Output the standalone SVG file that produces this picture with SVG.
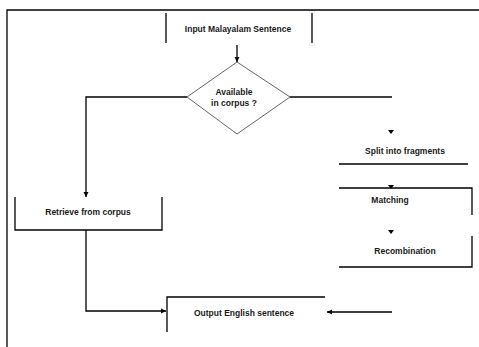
<svg xmlns="http://www.w3.org/2000/svg" width="479" height="347" viewBox="0 0 479 347">
<style>
.ln{stroke:#000;stroke-width:1.3;fill:none}
.dm{stroke:#666;stroke-width:1;fill:none}
.t{font-family:"Liberation Sans",Arial,sans-serif;font-size:8.5px;font-weight:bold;fill:#1a1a1a;text-anchor:middle}
</style>
<defs>
<marker id="ah" markerWidth="6" markerHeight="6" refX="5" refY="3" orient="auto" markerUnits="userSpaceOnUse">
<path d="M0,0.5 L5,3 L0,5.5 z" fill="#000"/>
</marker>
</defs>
<rect width="479" height="347" fill="#fff"/>
<g id="frame">
<path class="ln" d="M7,347 V10 H479"/>
</g>
<g id="input">
<path class="ln" d="M166,43 V13 M312,13 V43"/>
<text class="t" x="238" y="32">Input Malayalam Sentence</text>
</g>
<g id="decision">
<polygon class="dm" points="237,62 290,97 237,134 187,97"/>
<text class="t" x="234" y="95">Available</text>
<text class="t" x="234" y="106">in corpus ?</text>
</g>
<g id="retrieve">
<path class="ln" d="M15,197 V230 H162 V197"/>
<text class="t" x="88" y="215">Retrieve from corpus</text>
</g>
<g id="split">
<text class="t" x="405" y="154">Split into fragments</text>
<path class="ln" d="M339,164 H468"/>
</g>
<g id="matching">
<path class="ln" d="M339,188 H472 V215"/>
<text class="t" x="390" y="203">Matching</text>
</g>
<g id="recombination">
<path class="ln" d="M472,236 V267 H339"/>
<text class="t" x="405" y="254">Recombination</text>
</g>
<g id="output">
<path class="ln" d="M167,332 V297 H325"/>
<text class="t" x="244" y="316">Output English sentence</text>
</g>
<g id="connectors">
<path class="ln" d="M237,45 V62" marker-end="url(#ah)"/>
<path class="ln" d="M187,97 H86 V197" marker-end="url(#ah)"/>
<path class="ln" d="M290,97 H392"/>
<path d="M388,130 L394,130 L391,134 z" fill="#000"/>
<path d="M388,185 L394,185 L391,189 z" fill="#000"/>
<path d="M388,230 L394,230 L391,234 z" fill="#000"/>
<path class="ln" d="M86,230 V311 H166" marker-end="url(#ah)"/>
<path class="ln" d="M392,312 H327" marker-end="url(#ah)"/>
</g>
</svg>
